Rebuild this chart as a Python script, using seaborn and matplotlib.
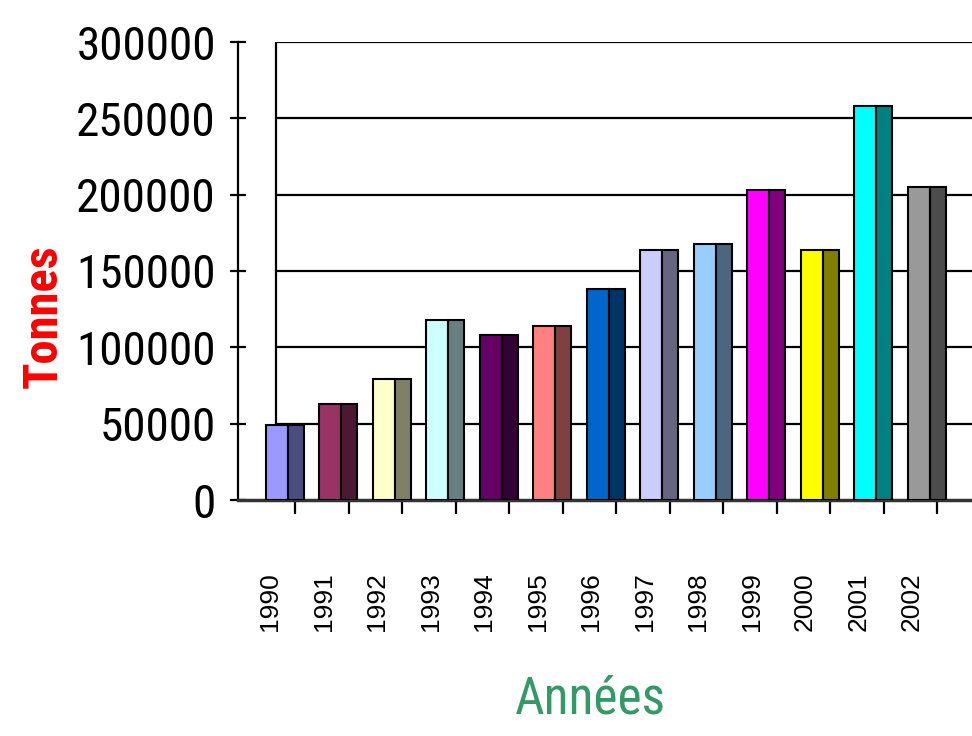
import matplotlib
matplotlib.use("Agg")
import matplotlib.pyplot as plt
from matplotlib import font_manager
import numpy as np
import pandas as pd
import seaborn as sns

# ---- data ----
years = ["1990", "1991", "1992", "1993", "1994", "1995", "1996",
         "1997", "1998", "1999", "2000", "2001", "2002"]
tonnes = [49000, 63000, 79000, 118000, 108000, 114000, 138000,
          164000, 168000, 203000, 164000, 258000, 205000]
front_colors = ["#9999FF", "#993366", "#FFFFCC", "#CCFFFF", "#660066", "#FF8080",
                "#0066CC", "#CCCCFF", "#99CCFF", "#FF00FF", "#FFFF00", "#00FFFF", "#999999"]
side_colors = ["#4C4C80", "#4C1933", "#808066", "#668080", "#330033", "#804040",
               "#003366", "#666680", "#4C6680", "#800080", "#808000", "#008080", "#4C4C4C"]
y_ticks = [0, 50000, 100000, 150000, 200000, 250000, 300000]
y_tick_labels = ["0", "50000", "100000", "150000", "200000", "250000", "300000"]

sns.set_style("white")
available = {f.name for f in font_manager.fontManager.ttflist}
narrow = None
for cand in ["Liberation Sans Narrow", "Roboto Condensed", "Open Sans Condensed"]:
    if cand in available:
        narrow = cand
        break
if narrow is None:
    narrow = "Liberation Sans"
plt.rcParams["font.family"] = ["Liberation Sans", "DejaVu Sans"]

df = pd.DataFrame({"year": years, "tonnes": tonnes})
idx = np.arange(len(years))
df["front_x"] = idx - 0.15
df["side_x"] = idx + 0.2055

fig = plt.figure(figsize=(9.72, 7.36), dpi=100)
ax = fig.add_axes([238 / 972, 1 - 500 / 736, 734 / 972, 458 / 736])

# gridlines starting from the back wall
for v in y_ticks[1:]:
    ax.axhline(v, xmin=38 / 734, xmax=1, color="black", lw=1.6, zorder=0)
ax.axvline(-0.17, color="black", lw=1.6, zorder=0)

sns.barplot(data=df, x="front_x", y="tonnes", hue="year",
            palette=dict(zip(years, front_colors)), native_scale=True,
            width=0.411, dodge=False, legend=False, edgecolor="black",
            linewidth=1.5, saturation=1, ax=ax, zorder=3)
sns.barplot(data=df, x="side_x", y="tonnes", hue="year",
            palette=dict(zip(years, side_colors)), native_scale=True,
            width=0.299, dodge=False, legend=False, edgecolor="black",
            linewidth=1.5, saturation=1, ax=ax, zorder=3)

ax.set_xlim((238 - 285) / 53.5, (972 - 285) / 53.5)
ax.set_ylim(0, 300000)

ax.set_xticks(idx + 0.19)
ax.set_xticklabels([""] * len(years))
ax.set_xticks(idx - 0.28, minor=True)
ax.set_xticklabels(years, minor=True, rotation=90, fontsize=19, color="black")
ax.tick_params(axis="x", which="major", bottom=True, length=10, width=1.6,
               direction="out", color="black")
ax.tick_params(axis="x", which="minor", bottom=True, length=0, pad=52)

ax.set_yticks(y_ticks)
ax.set_yticklabels(y_tick_labels, fontfamily=narrow, fontsize=34, color="black")
ax.tick_params(axis="y", left=True, direction="inout", length=12, width=1.6,
               pad=10, color="black")

ax.set_xlabel("")
ax.set_ylabel("")
for s in ["top", "right"]:
    ax.spines[s].set_visible(False)
ax.spines["left"].set_linewidth(1.6)
ax.spines["left"].set_color("black")
ax.spines["bottom"].set_linewidth(2.5)
ax.spines["bottom"].set_color("#333333")

fig.text(44 / 972, 1 - 316 / 736, "Tonnes", rotation=90, color="#FF0000",
         fontsize=35, fontweight="bold", fontfamily=narrow, ha="center", va="center")
fig.text(590 / 972, 1 - 700 / 736, "Années", color="#339966",
         fontsize=37, fontfamily=narrow, ha="center", va="center")

fig.savefig("out.png", dpi=100)
